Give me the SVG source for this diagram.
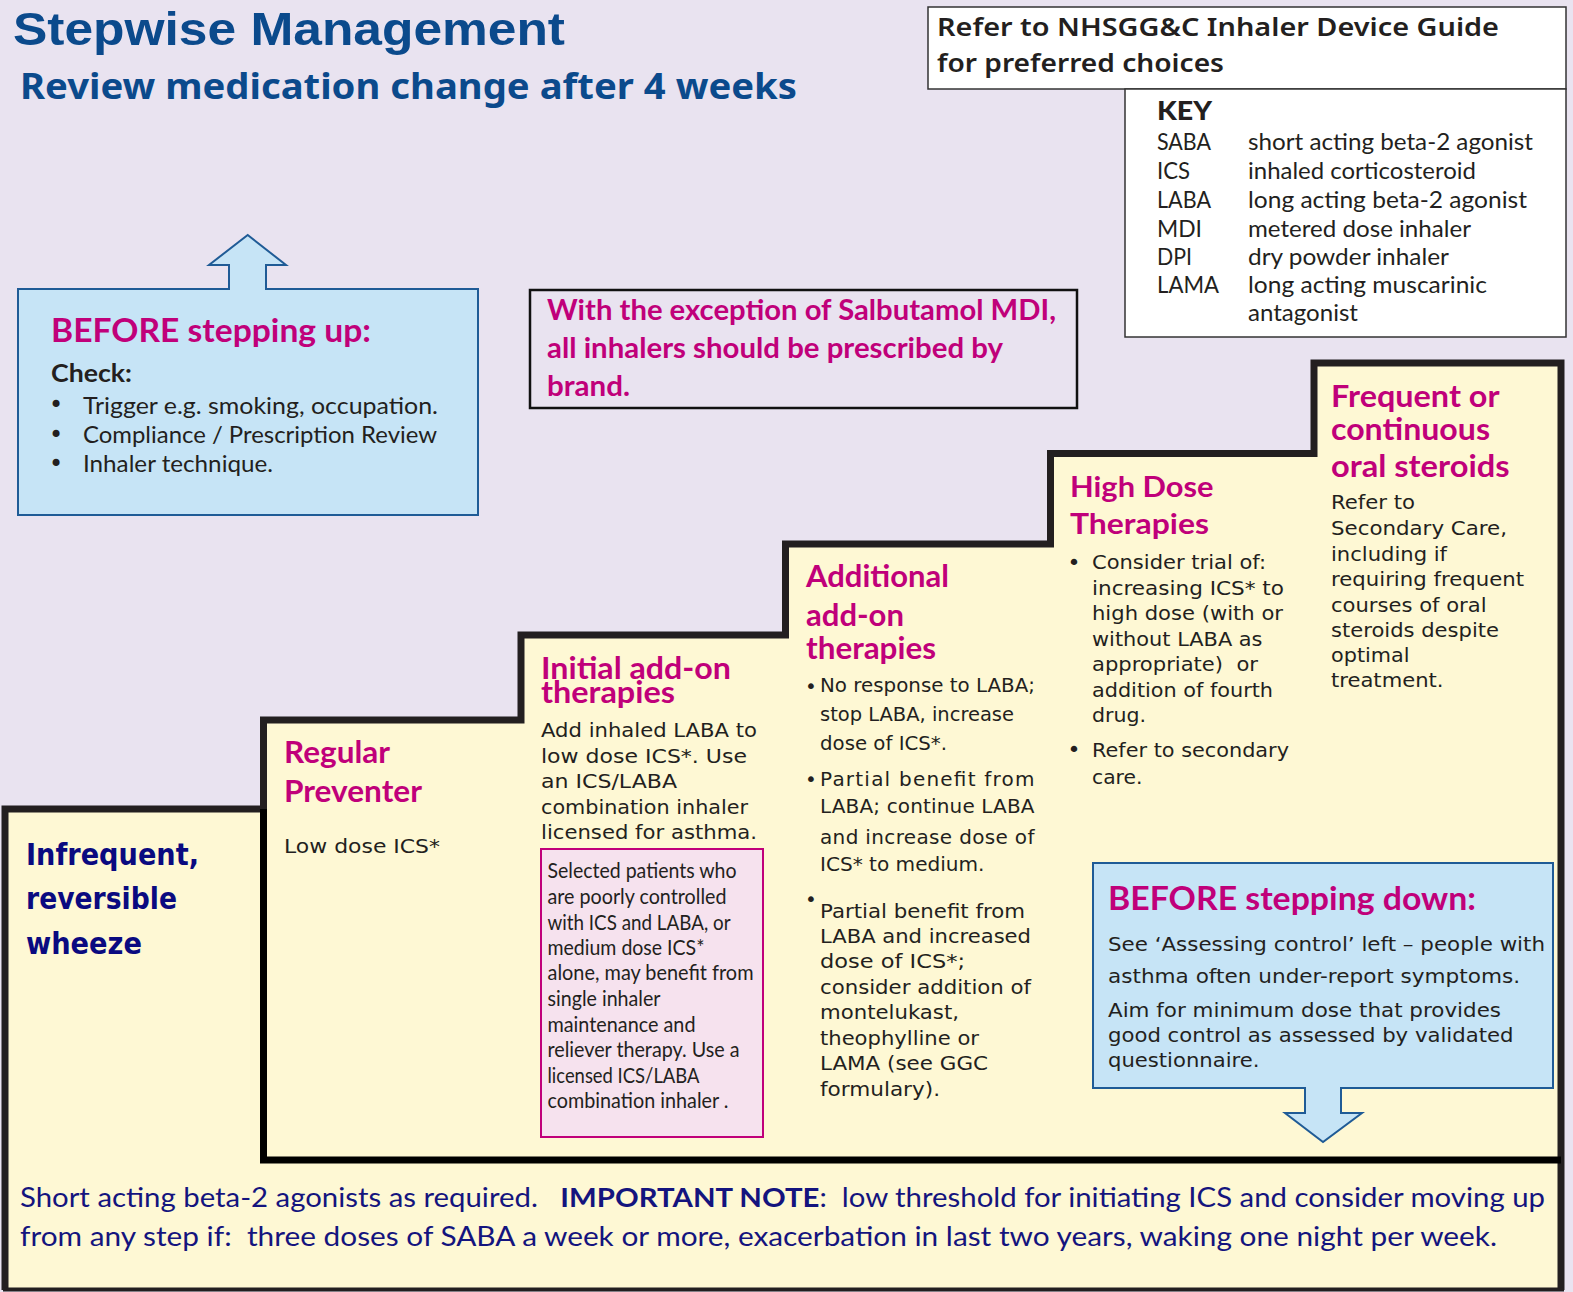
<svg xmlns="http://www.w3.org/2000/svg" width="1573" height="1292" viewBox="0 0 1573 1292">
<style>
.t{font-family:"DejaVu Sans",Verdana,sans-serif;font-size:20px;fill:#231f20}
.c{font-family:Lato,"Open Sans",sans-serif;fill:#231f20}
.m{font-family:Lato,"Open Sans",sans-serif;font-weight:bold;fill:#c0007a}
.k{font-family:Lato,"Open Sans",sans-serif;font-size:23.5px;fill:#231f20}
.nv{font-family:"DejaVu Sans",Verdana,sans-serif;font-weight:bold;font-size:30px;fill:#0a0a80}
.bl{fill:#c6e4f6;stroke:#1f5b96;stroke-width:2}
.b{font-family:"DejaVu Sans",sans-serif;fill:#231f20}
</style>
<rect x="0" y="0" width="1573" height="1292" fill="#e9e3f0"/>

<g id="stairs">
<path d="M5,1290 V809 H263.5 V720 H521 V635 H785.5 V544 H1050.5 V453.5 H1314 V363 H1561 V1290 Z" fill="#fef8d4" stroke="none"/>
<path d="M5,1290 V809 H263.5 V720 H521 V635 H785.5 V544 H1050.5 V453.5 H1314 V363 H1561 V1290" fill="none" stroke="#231f20" stroke-width="7" stroke-linejoin="miter"/>
<line x1="3" y1="1289.5" x2="1564" y2="1289.5" stroke="#231f20" stroke-width="4"/>
<polyline points="263.5,809 263.5,1160 1561,1160" fill="none" stroke="#000" stroke-width="7"/>
</g>

<g id="title">
<text x="13" y="45" font-family="'Liberation Sans',Arial,sans-serif" font-weight="bold" font-size="46" fill="#0b4a8c" textLength="552" lengthAdjust="spacingAndGlyphs">Stepwise Management</text>
<text x="20" y="99" font-family="'Noto Sans','Open Sans',sans-serif" font-weight="bold" font-size="35" fill="#0b4a8c" textLength="777" lengthAdjust="spacingAndGlyphs">Review medication change after 4 weeks</text>
</g>

<g id="device-guide">
<rect x="928" y="7" width="638" height="82" fill="#fff" stroke="#333" stroke-width="1.5"/>
<text x="937" y="36" font-family="'Noto Sans','Open Sans',sans-serif" font-size="26" font-weight="600" fill="#231f20" textLength="562" lengthAdjust="spacingAndGlyphs">Refer to NHSGG&amp;C Inhaler Device Guide</text>
<text x="937" y="72" font-family="'Noto Sans','Open Sans',sans-serif" font-size="26" font-weight="600" fill="#231f20" textLength="287" lengthAdjust="spacingAndGlyphs">for preferred choices</text>
</g>

<g id="key">
<rect x="1125" y="89" width="441" height="248" fill="#fff" stroke="#333" stroke-width="1.5"/>
<text x="1157" y="120" class="k" textLength="55" lengthAdjust="spacingAndGlyphs" style="font-size:26px;font-weight:900">KEY</text>
<text x="1157" y="150" class="k" textLength="54" lengthAdjust="spacingAndGlyphs">SABA</text>
<text x="1248" y="150" class="k" textLength="285" lengthAdjust="spacingAndGlyphs">short acting beta-2 agonist</text>
<text x="1157" y="179" class="k" textLength="33" lengthAdjust="spacingAndGlyphs">ICS</text>
<text x="1248" y="179" class="k" textLength="228" lengthAdjust="spacingAndGlyphs">inhaled corticosteroid</text>
<text x="1157" y="208" class="k" textLength="54" lengthAdjust="spacingAndGlyphs">LABA</text>
<text x="1248" y="208" class="k" textLength="279" lengthAdjust="spacingAndGlyphs">long acting beta-2 agonist</text>
<text x="1157" y="237" class="k" textLength="45" lengthAdjust="spacingAndGlyphs">MDI</text>
<text x="1248" y="237" class="k" textLength="223" lengthAdjust="spacingAndGlyphs">metered dose inhaler</text>
<text x="1157" y="265" class="k" textLength="35" lengthAdjust="spacingAndGlyphs">DPI</text>
<text x="1248" y="265" class="k" textLength="201" lengthAdjust="spacingAndGlyphs">dry powder inhaler</text>
<text x="1157" y="293" class="k" textLength="62" lengthAdjust="spacingAndGlyphs">LAMA</text>
<text x="1248" y="293" class="k" textLength="239" lengthAdjust="spacingAndGlyphs">long acting muscarinic</text>
<text x="1248" y="321" class="k" textLength="110" lengthAdjust="spacingAndGlyphs">antagonist</text>
</g>

<g id="before-stepping-up">
<path class="bl" d="M18,289 H229 V265 H209 L247.7,235 L286,265 H266 V289 H478 V515 H18 Z"/>
<text x="51" y="342" class="m" font-size="33" textLength="320" lengthAdjust="spacingAndGlyphs">BEFORE stepping up:</text>
<text x="51" y="382" class="c" font-size="24" font-weight="bold" textLength="81" lengthAdjust="spacingAndGlyphs">Check:</text>
<text x="56" y="413" class="b" font-size="24" text-anchor="middle">•</text>
<text x="56" y="442.5" class="b" font-size="24" text-anchor="middle">•</text>
<text x="56" y="471.5" class="b" font-size="24" text-anchor="middle">•</text>
<text x="83" y="414" class="c" font-size="23.5" textLength="355" lengthAdjust="spacingAndGlyphs">Trigger e.g. smoking, occupation.</text>
<text x="83" y="443" class="c" font-size="23.5" textLength="354" lengthAdjust="spacingAndGlyphs">Compliance / Prescription Review</text>
<text x="83" y="472" class="c" font-size="23.5" textLength="190" lengthAdjust="spacingAndGlyphs">Inhaler technique.</text>
</g>

<g id="brand-note">
<rect x="530" y="290" width="547" height="118" fill="#e9e3f0" stroke="#111" stroke-width="2.5"/>
<text x="547" y="320" class="m" font-size="29" textLength="509" lengthAdjust="spacingAndGlyphs">With the exception of Salbutamol MDI,</text>
<text x="547" y="358" class="m" font-size="29" textLength="456" lengthAdjust="spacingAndGlyphs">all inhalers should be prescribed by</text>
<text x="547" y="396" class="m" font-size="29" textLength="83" lengthAdjust="spacingAndGlyphs">brand.</text>
</g>

<g id="step1">
<text x="26" y="865" class="nv" textLength="173" lengthAdjust="spacingAndGlyphs">Infrequent,</text>
<text x="26" y="909" class="nv" textLength="151" lengthAdjust="spacingAndGlyphs">reversible</text>
<text x="26" y="954" class="nv" textLength="116" lengthAdjust="spacingAndGlyphs">wheeze</text>
</g>

<g id="step2">
<text x="284" y="763" class="m" font-size="30" textLength="106" lengthAdjust="spacingAndGlyphs">Regular</text>
<text x="284" y="802" class="m" font-size="30" textLength="138" lengthAdjust="spacingAndGlyphs">Preventer</text>
<text x="284" y="853" class="t" textLength="156" lengthAdjust="spacingAndGlyphs">Low dose ICS*</text>
</g>

<g id="step3">
<text x="541" y="679" class="m" font-size="29.5" textLength="190" lengthAdjust="spacingAndGlyphs">Initial add-on</text>
<text x="541" y="703" class="m" font-size="29.5" textLength="134" lengthAdjust="spacingAndGlyphs">therapies</text>
<text x="541" y="736.5" class="t" textLength="216" lengthAdjust="spacingAndGlyphs">Add inhaled LABA to</text>
<text x="541" y="762.5" class="t" textLength="206" lengthAdjust="spacingAndGlyphs">low dose ICS*. Use</text>
<text x="541" y="788" class="t" textLength="136" lengthAdjust="spacingAndGlyphs">an ICS/LABA</text>
<text x="541" y="813.5" class="t" textLength="207" lengthAdjust="spacingAndGlyphs">combination inhaler</text>
<text x="541" y="838.5" class="t" textLength="216" lengthAdjust="spacingAndGlyphs">licensed for asthma.</text>
</g>

<g id="smart-box">
<rect x="541" y="849" width="222" height="288" fill="#f6e2ee" stroke="#c0007a" stroke-width="2"/>
<text x="547.5" y="878" class="c" font-size="20.5" textLength="189" lengthAdjust="spacingAndGlyphs">Selected patients who</text>
<text x="547.5" y="904" class="c" font-size="20.5" textLength="179" lengthAdjust="spacingAndGlyphs">are poorly controlled</text>
<text x="547.5" y="929.5" class="c" font-size="20.5" textLength="183" lengthAdjust="spacingAndGlyphs">with ICS and LABA, or</text>
<text x="547.5" y="955" class="c" font-size="20.5" textLength="157" lengthAdjust="spacingAndGlyphs">medium dose ICS*</text>
<text x="547.5" y="980" class="c" font-size="20.5" textLength="206" lengthAdjust="spacingAndGlyphs">alone, may benefit from</text>
<text x="547.5" y="1006" class="c" font-size="20.5" textLength="113" lengthAdjust="spacingAndGlyphs">single inhaler</text>
<text x="547.5" y="1031.5" class="c" font-size="20.5" textLength="148" lengthAdjust="spacingAndGlyphs">maintenance and</text>
<text x="547.5" y="1057" class="c" font-size="20.5" textLength="192" lengthAdjust="spacingAndGlyphs">reliever therapy. Use a</text>
<text x="547.5" y="1082.5" class="c" font-size="20.5" textLength="152" lengthAdjust="spacingAndGlyphs">licensed ICS/LABA</text>
<text x="547.5" y="1108" class="c" font-size="20.5" textLength="181" lengthAdjust="spacingAndGlyphs">combination inhaler .</text>
</g>

<g id="step4">
<text x="806" y="587" class="m" font-size="30.5" textLength="143" lengthAdjust="spacingAndGlyphs">Additional</text>
<text x="806" y="626" class="m" font-size="30.5" textLength="98" lengthAdjust="spacingAndGlyphs">add-on</text>
<text x="806" y="659" class="m" font-size="30.5" textLength="130" lengthAdjust="spacingAndGlyphs">therapies</text>
<text x="811" y="692.5" class="b" font-size="20" text-anchor="middle">•</text>
<text x="811" y="785.5" class="b" font-size="20" text-anchor="middle">•</text>
<text x="811" y="906" class="b" font-size="20" text-anchor="middle">•</text>
<text x="820" y="692" class="t" textLength="215" lengthAdjust="spacingAndGlyphs">No response to LABA;</text>
<text x="820" y="721" class="t" textLength="194" lengthAdjust="spacingAndGlyphs">stop LABA, increase</text>
<text x="820" y="749.5" class="t" textLength="127" lengthAdjust="spacingAndGlyphs">dose of ICS*.</text>
<text x="820" y="786" class="t" textLength="214.5" lengthAdjust="spacing">Partial   benefit   from</text>
<text x="820" y="813" class="t" textLength="214.5" lengthAdjust="spacing">LABA;  continue  LABA</text>
<text x="820" y="843.5" class="t" textLength="214.5" lengthAdjust="spacing">and  increase  dose  of</text>
<text x="820" y="871" class="t" textLength="164.5" lengthAdjust="spacingAndGlyphs">ICS* to medium.</text>
<text x="820" y="917.5" class="t" textLength="205" lengthAdjust="spacingAndGlyphs">Partial benefit from</text>
<text x="820" y="942.5" class="t" textLength="211" lengthAdjust="spacingAndGlyphs">LABA and increased</text>
<text x="820" y="968" class="t" textLength="145" lengthAdjust="spacingAndGlyphs">dose of ICS*;</text>
<text x="820" y="994" class="t" textLength="211" lengthAdjust="spacingAndGlyphs">consider addition of</text>
<text x="820" y="1019" class="t" textLength="139" lengthAdjust="spacingAndGlyphs">montelukast,</text>
<text x="820" y="1045" class="t" textLength="159" lengthAdjust="spacingAndGlyphs">theophylline or</text>
<text x="820" y="1070" class="t" textLength="168" lengthAdjust="spacingAndGlyphs">LAMA (see GGC</text>
<text x="820" y="1095.5" class="t" textLength="120" lengthAdjust="spacingAndGlyphs">formulary).</text>
</g>

<g id="step5">
<text x="1070" y="497" class="m" font-size="29" textLength="143.5" lengthAdjust="spacingAndGlyphs">High Dose</text>
<text x="1070" y="534" class="m" font-size="29" textLength="139" lengthAdjust="spacingAndGlyphs">Therapies</text>
<text x="1074" y="569.5" class="b" font-size="22" text-anchor="middle">•</text>
<text x="1074" y="757" class="b" font-size="22" text-anchor="middle">•</text>
<text x="1092" y="569" class="t" textLength="174" lengthAdjust="spacingAndGlyphs">Consider trial of:</text>
<text x="1092" y="595" class="t" textLength="192" lengthAdjust="spacingAndGlyphs">increasing ICS* to</text>
<text x="1092" y="620" class="t" textLength="191" lengthAdjust="spacingAndGlyphs">high dose (with or</text>
<text x="1092" y="645.5" class="t" textLength="170.5" lengthAdjust="spacingAndGlyphs">without LABA as</text>
<text x="1092" y="670.5" class="t" textLength="166" lengthAdjust="spacingAndGlyphs" xml:space="preserve">appropriate)  or</text>
<text x="1092" y="696.5" class="t" textLength="181" lengthAdjust="spacingAndGlyphs">addition of fourth</text>
<text x="1092" y="721.5" class="t" textLength="54" lengthAdjust="spacingAndGlyphs">drug.</text>
<text x="1092" y="757" class="t" textLength="197" lengthAdjust="spacingAndGlyphs">Refer to secondary</text>
<text x="1092" y="784" class="t" textLength="50.5" lengthAdjust="spacingAndGlyphs">care.</text>
</g>

<g id="step6">
<text x="1331" y="407" class="m" font-size="29.5" textLength="168.5" lengthAdjust="spacingAndGlyphs">Frequent or</text>
<text x="1331" y="440" class="m" font-size="29.5" textLength="159" lengthAdjust="spacingAndGlyphs">continuous</text>
<text x="1331" y="477" class="m" font-size="29.5" textLength="178.5" lengthAdjust="spacingAndGlyphs">oral steroids</text>
<text x="1331" y="509" class="t" textLength="84" lengthAdjust="spacingAndGlyphs">Refer to</text>
<text x="1331" y="535" class="t" textLength="176" lengthAdjust="spacingAndGlyphs">Secondary Care,</text>
<text x="1331" y="560.5" class="t" textLength="116" lengthAdjust="spacingAndGlyphs">including if</text>
<text x="1331" y="586" class="t" textLength="193" lengthAdjust="spacingAndGlyphs">requiring frequent</text>
<text x="1331" y="611.5" class="t" textLength="155.5" lengthAdjust="spacingAndGlyphs">courses of oral</text>
<text x="1331" y="636.5" class="t" textLength="168" lengthAdjust="spacingAndGlyphs">steroids despite</text>
<text x="1331" y="662" class="t" textLength="78.5" lengthAdjust="spacingAndGlyphs">optimal</text>
<text x="1331" y="687" class="t" textLength="112.5" lengthAdjust="spacingAndGlyphs">treatment.</text>
</g>

<g id="before-stepping-down">
<path class="bl" d="M1093,863 H1553 V1088 H1341 V1113 H1362 L1323,1142 L1285,1113 H1305 V1088 H1093 Z"/>
<text x="1108" y="910" class="m" font-size="32" textLength="368" lengthAdjust="spacingAndGlyphs">BEFORE stepping down:</text>
<text x="1108" y="951" class="t" textLength="437" lengthAdjust="spacingAndGlyphs">See ‘Assessing control’ left – people with</text>
<text x="1108" y="982.5" class="t" textLength="412" lengthAdjust="spacingAndGlyphs">asthma often under-report symptoms.</text>
<text x="1108" y="1016.5" class="t" textLength="393" lengthAdjust="spacingAndGlyphs">Aim for minimum dose that provides</text>
<text x="1108" y="1041.5" class="t" textLength="405.5" lengthAdjust="spacingAndGlyphs">good control as assessed by validated</text>
<text x="1108" y="1067" class="t" textLength="151.5" lengthAdjust="spacingAndGlyphs">questionnaire.</text>
</g>

<g id="saba-note">
<text x="20" y="1206.5" class="c" font-size="27" style="fill:#14147e" textLength="1525" lengthAdjust="spacingAndGlyphs" xml:space="preserve">Short acting beta-2 agonists as required.   <tspan font-weight="bold">IMPORTANT NOTE</tspan>:  low threshold for initiating ICS and consider moving up</text>
<text x="20" y="1246" class="c" font-size="27" style="fill:#14147e" textLength="1477" lengthAdjust="spacingAndGlyphs" xml:space="preserve">from any step if:  three doses of SABA a week or more, exacerbation in last two years, waking one night per week.</text>
</g>
</svg>
